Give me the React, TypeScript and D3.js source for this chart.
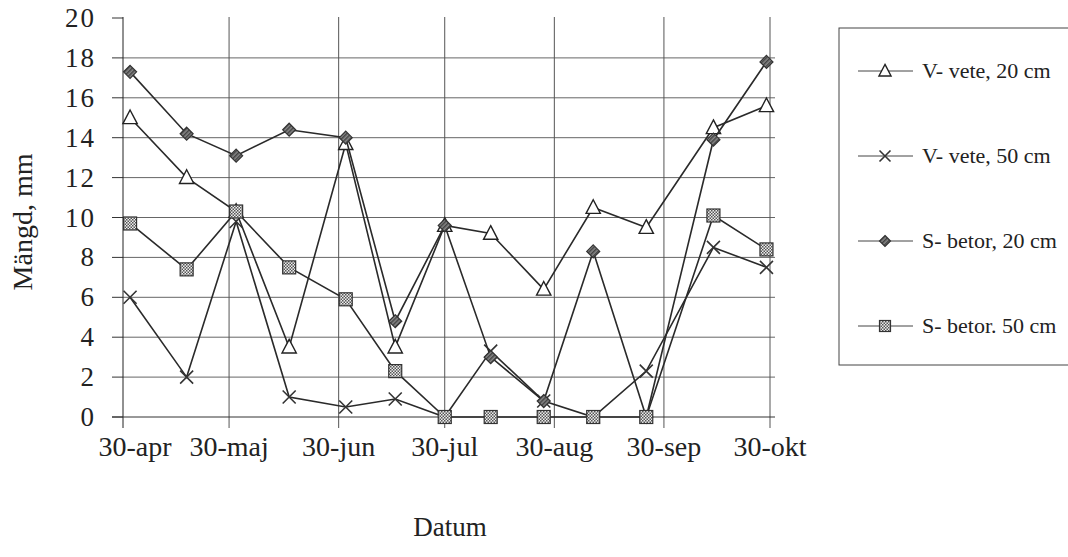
import { useEffect, useRef } from 'react';
import * as d3 from 'd3';

// sampling dates (day-month), year is arbitrary
const dates = [
  '2001-05-02', '2001-05-18', '2001-06-01', '2001-06-16', '2001-07-02', '2001-07-16', '2001-07-30',
  '2001-08-12', '2001-08-27', '2001-09-10', '2001-09-25', '2001-10-14', '2001-10-29',
];

const vVete20 = [15.0, 12.0, 10.3, 3.5, 13.7, 3.5, 9.6, 9.2, 6.4, 10.5, 9.5, 14.5, 15.6];
const vVete50 = [6.0, 2.0, 9.8, 1.0, 0.5, 0.9, 0, 3.3, 0.8, 0, 2.3, 8.5, 7.5];
const sBetor20 = [17.3, 14.2, 13.1, 14.4, 14.0, 4.8, 9.6, 3.0, 0.8, 8.3, 0, 13.9, 17.8];
const sBetor50 = [9.7, 7.4, 10.3, 7.5, 5.9, 2.3, 0, 0, 0, 0, 0, 10.1, 8.4];

const seriesNames = ['V- vete, 20 cm', 'V- vete, 50 cm', 'S- betor, 20 cm', 'S- betor. 50 cm'];
const markers = ['triangle', 'cross', 'diamond', 'square'];

const tickDates = ['2001-04-30', '2001-05-30', '2001-06-30', '2001-07-30', '2001-08-30', '2001-09-30', '2001-10-30'];
const tickLabels = ['30-apr', '30-maj', '30-jun', '30-jul', '30-aug', '30-sep', '30-okt'];
const yTicks = [0, 2, 4, 6, 8, 10, 12, 14, 16, 18, 20];

const FONT = 'Liberation Serif, DejaVu Serif, serif';

export default function App() {
  const ref = useRef<SVGSVGElement>(null);

  useEffect(() => {
    if (!ref.current) return;
    const svg = d3.select(ref.current);
    svg.selectAll('*').remove();

    const parse = d3.timeParse('%Y-%m-%d');
    const xDates = dates.map(d => parse(d) as Date);
    const tDates = tickDates.map(d => parse(d) as Date);

    const x = d3.scaleTime()
      .domain([tDates[0], tDates[tDates.length - 1]])
      .range([123, 770]);
    const y = d3.scaleLinear().domain([0, 20]).range([417, 18]);

    // patterns
    const defs = svg.append('defs');
    const checker = defs.append('pattern')
      .attr('id', 'checker').attr('width', 3).attr('height', 3)
      .attr('patternUnits', 'userSpaceOnUse');
    checker.append('rect').attr('width', 3).attr('height', 3).attr('fill', '#eee');
    checker.append('rect').attr('width', 1.5).attr('height', 1.5).attr('fill', '#555');
    checker.append('rect').attr('x', 1.5).attr('y', 1.5).attr('width', 1.5).attr('height', 1.5).attr('fill', '#555');

    const hatch = defs.append('pattern')
      .attr('id', 'hatch').attr('width', 3).attr('height', 3)
      .attr('patternUnits', 'userSpaceOnUse')
      .attr('patternTransform', 'rotate(45)');
    hatch.append('rect').attr('width', 3).attr('height', 3).attr('fill', '#888');
    hatch.append('rect').attr('width', 1.5).attr('height', 3).attr('fill', '#444');

    // horizontal gridlines (no line at 20)
    svg.append('g').selectAll('line')
      .data(yTicks.filter(t => t > 0 && t < 20))
      .enter().append('line')
      .attr('x1', 123).attr('x2', 775)
      .attr('y1', d => y(d)).attr('y2', d => y(d))
      .attr('stroke', '#666').attr('stroke-width', 1);

    // y tick marks
    svg.append('g').selectAll('line')
      .data(yTicks)
      .enter().append('line')
      .attr('x1', 112).attr('x2', 123)
      .attr('y1', d => y(d)).attr('y2', d => y(d))
      .attr('stroke', '#333').attr('stroke-width', 1);

    // vertical gridlines with tick below axis
    svg.append('g').selectAll('line')
      .data(tDates)
      .enter().append('line')
      .attr('x1', d => x(d)).attr('x2', d => x(d))
      .attr('y1', 17).attr('y2', 428)
      .attr('stroke', (d, i) => (i === 0 ? '#222' : '#555'))
      .attr('stroke-width', 1);

    // x axis line
    svg.append('line')
      .attr('x1', 112).attr('x2', 775)
      .attr('y1', y(0)).attr('y2', y(0))
      .attr('stroke', '#333').attr('stroke-width', 1);

    // y tick labels
    svg.append('g').selectAll('text')
      .data(yTicks)
      .enter().append('text')
      .attr('x', 96).attr('y', d => y(d) + 9)
      .attr('text-anchor', 'end')
      .style('font-family', FONT).style('font-size', '27px')
      .attr('letter-spacing', 2)
      .attr('fill', '#222')
      .text(d => d);

    // x tick labels
    svg.append('g').selectAll('text')
      .data(tDates)
      .enter().append('text')
      .attr('x', (d, i) => x(d) + (i === 0 ? 12 : 0))
      .attr('y', 456)
      .attr('text-anchor', 'middle')
      .style('font-family', FONT).style('font-size', '28px')
      .attr('fill', '#222')
      .text((d, i) => tickLabels[i]);

    // axis titles
    svg.append('text')
      .attr('x', 450).attr('y', 536)
      .attr('text-anchor', 'middle')
      .style('font-family', FONT).style('font-size', '27px')
      .attr('fill', '#222')
      .text('Datum');

    svg.append('text')
      .attr('transform', 'translate(32,222) rotate(-90)')
      .attr('text-anchor', 'middle')
      .style('font-family', FONT).style('font-size', '28px')
      .attr('fill', '#222')
      .text('Mängd, mm');

    const drawMarker = (g: any, type: string, cx: number, cy: number, s: number) => {
      if (type === 'triangle') {
        g.append('path')
          .attr('d', `M${cx},${cy - s * 0.6}L${cx + s * 0.55},${cy + s * 0.45}L${cx - s * 0.55},${cy + s * 0.45}Z`)
          .attr('fill', '#fff').attr('stroke', '#222').attr('stroke-width', 1.4);
      } else if (type === 'cross') {
        g.append('path')
          .attr('d', `M${cx - s / 2},${cy - s / 2}L${cx + s / 2},${cy + s / 2}M${cx - s / 2},${cy + s / 2}L${cx + s / 2},${cy - s / 2}`)
          .attr('fill', 'none').attr('stroke', '#333').attr('stroke-width', 1.6);
      } else if (type === 'diamond') {
        g.append('path')
          .attr('d', `M${cx},${cy - s / 2}L${cx + s / 2},${cy}L${cx},${cy + s / 2}L${cx - s / 2},${cy}Z`)
          .attr('fill', 'url(#hatch)').attr('stroke', '#333').attr('stroke-width', 1.2);
      } else {
        g.append('rect')
          .attr('x', cx - s / 2).attr('y', cy - s / 2)
          .attr('width', s).attr('height', s)
          .attr('fill', 'url(#checker)').attr('stroke', '#333').attr('stroke-width', 1.2);
      }
    };

    const allSeries = [vVete20, vVete50, sBetor20, sBetor50];
    const line = d3.line<number>()
      .x((d, i) => x(xDates[i]))
      .y(d => y(d));

    allSeries.forEach((vals, si) => {
      const g = svg.append('g');
      g.append('path')
        .datum(vals)
        .attr('fill', 'none')
        .attr('stroke', '#2a2a2a')
        .attr('stroke-width', 1.6)
        .attr('d', line);
      vals.forEach((v, i) => drawMarker(g, markers[si], x(xDates[i]), y(v), 13));
    });

    // legend
    const lg = svg.append('g');
    lg.append('rect')
      .attr('x', 839).attr('y', 28)
      .attr('width', 260).attr('height', 337)
      .attr('fill', '#fff').attr('stroke', '#444').attr('stroke-width', 1);
    seriesNames.forEach((name, i) => {
      const cy = 71 + i * 85;
      lg.append('line')
        .attr('x1', 858).attr('x2', 913)
        .attr('y1', cy).attr('y2', cy)
        .attr('stroke', '#444').attr('stroke-width', 1);
      drawMarker(lg, markers[i], 885, cy, 11);
      lg.append('text')
        .attr('x', 922).attr('y', cy + 7)
        .style('font-family', FONT).style('font-size', '22px')
        .attr('fill', '#222')
        .text(name);
    });
  }, []);

  return (
    <svg
      ref={ref}
      width={1068}
      height={557}
      style={{ position: 'absolute', left: 0, top: 0, background: '#fff' }}
    />
  );
}
